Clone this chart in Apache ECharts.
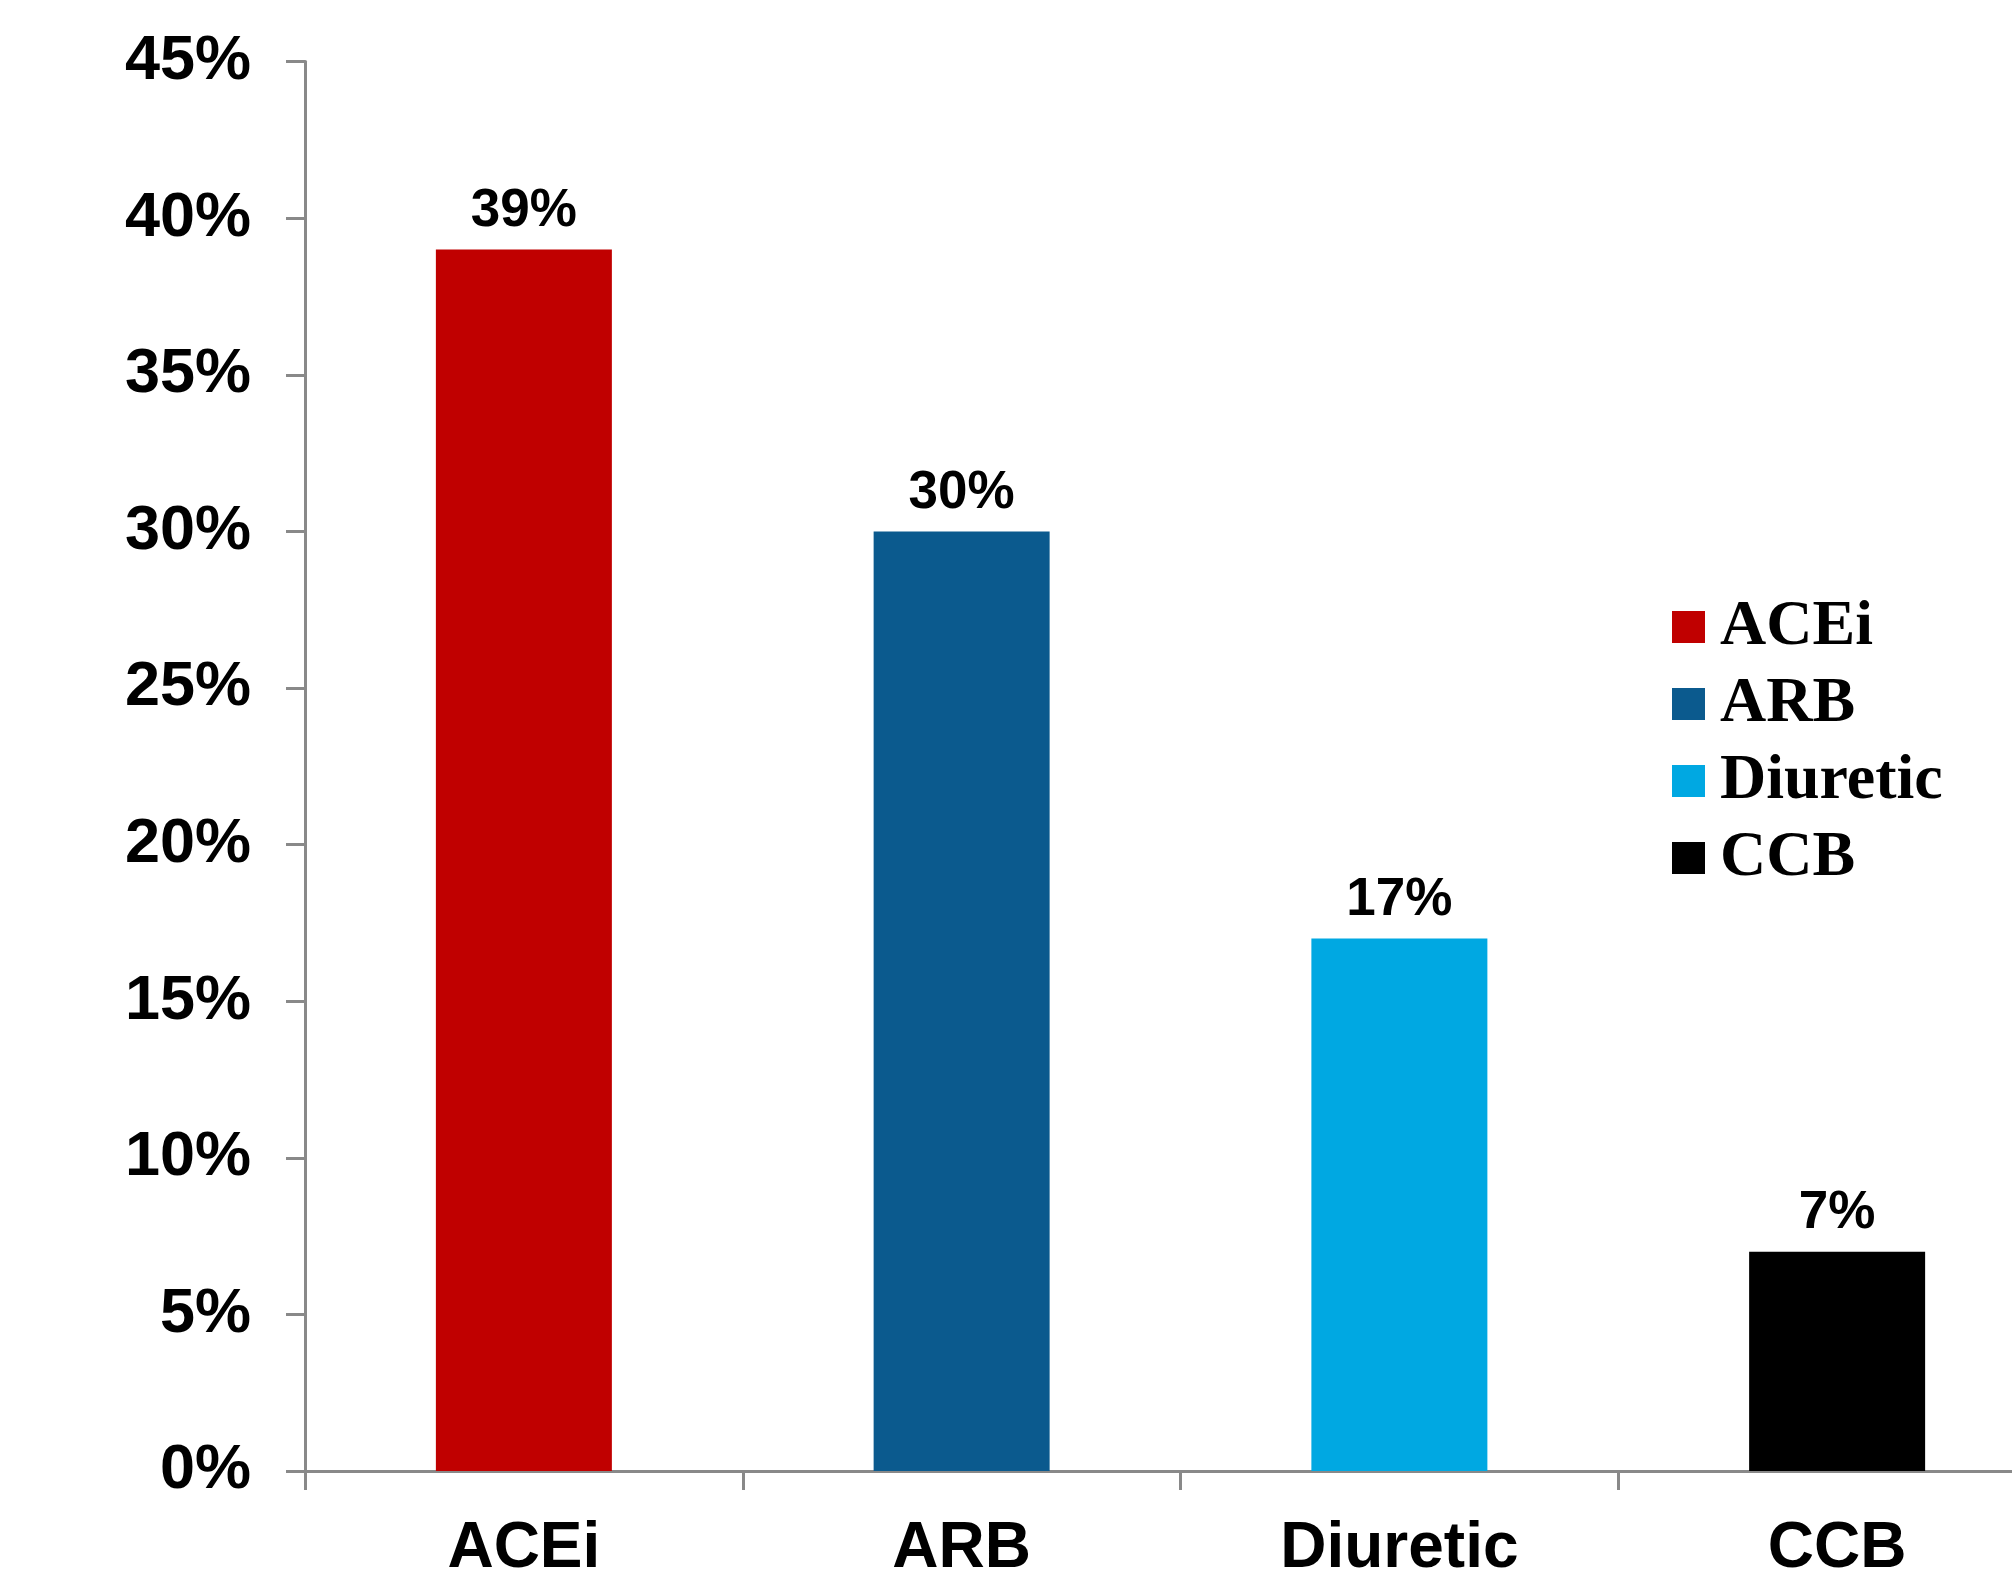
<!DOCTYPE html>
<html>
<head>
<meta charset="utf-8">
<title>Antihypertensive class use</title>
<script src="https://cdn.jsdelivr.net/npm/echarts@6/dist/echarts.min.js"></script>
<style>
  html, body { margin: 0; padding: 0; background: #ffffff; overflow: hidden; }
  #wrap { width: 2012px; height: 1581px; overflow: hidden; }
  /* the plot runs a little past the right edge of the page */
  #chart { width: 2060px; height: 1581px; }
</style>
</head>
<body>
<div id="wrap"><div id="chart"></div></div>
<script>
// Drug classes and their share of patients (%)
const categories = ['ACEi', 'ARB', 'Diuretic', 'CCB'];
const values = [39, 30, 17, 7];
const colors = ['#C00000', '#0B5A8E', '#00A8E2', '#000000'];
const yTicks = [0, 5, 10, 15, 20, 25, 30, 35, 40, 45];

const sans = '"Liberation Sans", Arial, sans-serif';
const serif = '"Liberation Serif", "Times New Roman", serif';
const axisGray = '#898989';

// One series per class so each gets a legend entry; bars overlap at their own slot.
const series = categories.map((name, i) => ({
  name: name,
  type: 'bar',
  barWidth: 176,
  barGap: '-100%',
  itemStyle: { color: colors[i] },
  label: {
    show: true,
    position: 'top',
    distance: 12,
    formatter: '{c}%',
    color: '#000',
    fontFamily: sans,
    fontWeight: 'bold',
    fontSize: 53
  },
  data: categories.map((c, j) => (j === i ? values[i] : '-'))
}));

const chart = echarts.init(document.getElementById('chart'), null, { renderer: 'canvas' });
chart.setOption({
  animation: false,
  backgroundColor: '#ffffff',
  grid: { left: 305, top: 61.6, width: 1751, height: 1411, containLabel: false },
  legend: {
    orient: 'vertical',
    left: 1672,
    top: 594,
    padding: 0,
    itemWidth: 33,
    itemHeight: 32,
    itemGap: 11,
    icon: 'rect',
    textStyle: {
      fontFamily: serif,
      fontWeight: 'bold',
      fontSize: 64,
      lineHeight: 66,
      color: '#000',
      padding: [0, 0, 0, 10]
    },
    data: categories
  },
  xAxis: {
    type: 'category',
    data: categories,
    boundaryGap: true,
    axisLine: { show: true, lineStyle: { color: axisGray, width: 3 } },
    axisTick: { show: true, length: 19, lineStyle: { color: axisGray, width: 3 } },
    axisLabel: {
      margin: 46,
      color: '#000',
      fontFamily: sans,
      fontWeight: 'bold',
      fontSize: 64
    },
    splitLine: { show: false }
  },
  yAxis: {
    type: 'value',
    min: yTicks[0],
    max: yTicks[yTicks.length - 1],
    interval: yTicks[1] - yTicks[0],
    axisLine: { show: true, lineStyle: { color: axisGray, width: 3 } },
    axisTick: { show: true, length: 19, lineStyle: { color: axisGray, width: 3 } },
    axisLabel: {
      margin: 54,
      formatter: '{value}%',
      color: '#000',
      fontFamily: sans,
      fontWeight: 'bold',
      fontSize: 63
    },
    splitLine: { show: false }
  },
  series: series
});
</script>
</body>
</html>
